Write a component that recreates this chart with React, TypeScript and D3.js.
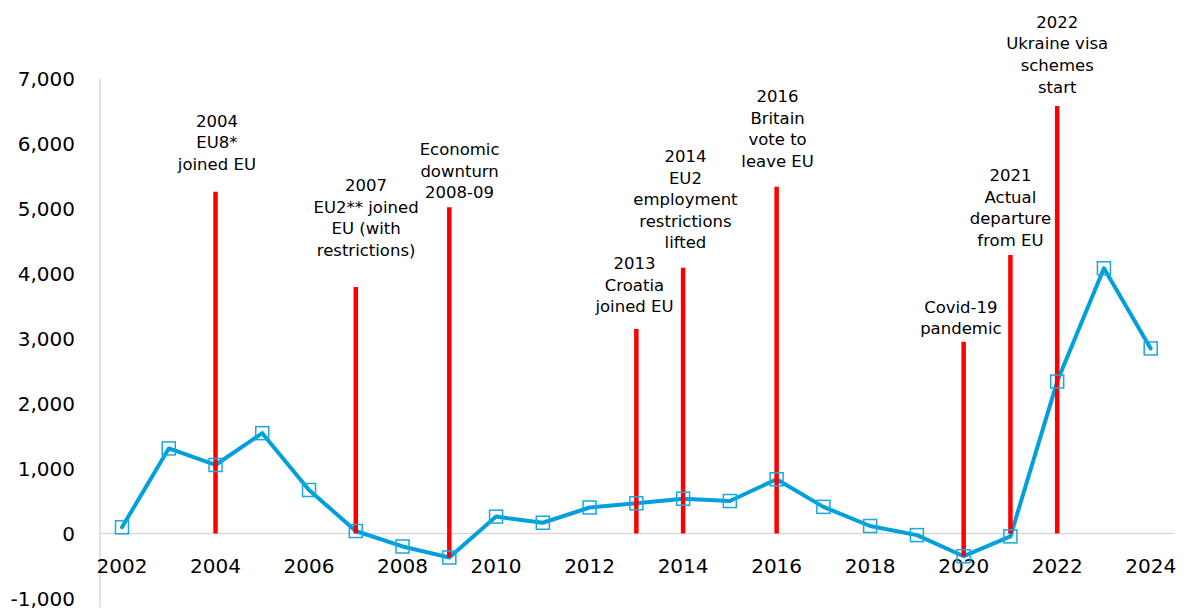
import React from "react";
import * as d3 from "d3";

const years = [2002, 2003, 2004, 2005, 2006, 2007, 2008, 2009, 2010, 2011, 2012, 2013, 2014, 2015, 2016, 2017, 2018, 2019, 2020, 2021, 2022, 2023, 2024];
const values = [95, 1310, 1055, 1545, 670, 38, -200, -370, 260, 165, 400, 465, 535, 500, 835, 410, 115, -25, -350, -45, 2340, 4085, 2850];

const yTicks = [-1000, 0, 1000, 2000, 3000, 4000, 5000, 6000, 7000];
const xTicks = [2002, 2004, 2006, 2008, 2010, 2012, 2014, 2016, 2018, 2020, 2022, 2024];

const eventYears = [2004, 2007, 2009, 2013, 2014, 2016, 2020, 2021, 2022];
const eventTop = [5264, 3796, 5024, 3150, 4094, 5341, 2954, 4289, 6584];
const eventBottom = [0, 0, -370, 0, 0, 0, -350, 0, 0];
const eventLabelValue = [6358, 5367, 5922, 4166, 5814, 6738, 3493, 5521, 7882];
const eventLabelShift = [0.03, 0.22, 0.22, -0.04, 0.05, 0.02, -0.06, 0, 0];
const eventLabels = [
  ["2004", "EU8*", "joined EU"],
  ["2007", "EU2** joined", "EU (with", "restrictions)"],
  ["Economic", "downturn", "2008-09"],
  ["2013", "Croatia", "joined EU"],
  ["2014", "EU2", "employment", "restrictions", "lifted"],
  ["2016", "Britain", "vote to", "leave EU"],
  ["Covid-19", "pandemic"],
  ["2021", "Actual", "departure", "from EU"],
  ["2022", "Ukraine visa", "schemes", "start"],
];

const W = 1184;
const H = 610;
const FONT = "'DejaVu Sans', Verdana, sans-serif";

const fmt = (v: number) => d3.format(",")(v).replace("\u2212", "-");

export default function App() {
  const x = d3.scaleLinear().domain([2002, 2024]).range([122, 1150.7]);
  const y = d3.scaleLinear().domain([-1000, 7000]).range([598.4, 79]);
  const axisX = 100;
  const rightEnd = 1174;

  const line = d3
    .line<number>()
    .x((_, i) => x(years[i]))
    .y((d) => y(d));

  const ms = 13;
  const lineH = 21.6;

  return (
    <svg
      width={W}
      height={H}
      style={{ position: "absolute", left: 0, top: 0, background: "#fff" }}
      fontFamily={FONT}
    >
      {/* axes */}
      <line x1={axisX} x2={axisX} y1={y(7000)} y2={y(-1000) + 9} stroke="#d9d9d9" strokeWidth={1.5} />
      <line x1={axisX} x2={rightEnd} y1={y(0)} y2={y(0)} stroke="#d9d9d9" strokeWidth={1.5} />

      {yTicks.map((t) => (
        <text key={t} x={75} y={y(t) + 7.3} textAnchor="end" fontSize={20} fill="#000">
          {fmt(t)}
        </text>
      ))}
      {xTicks.map((t) => (
        <text key={t} x={x(t)} y={573} textAnchor="middle" fontSize={20} fill="#000">
          {t}
        </text>
      ))}

      {/* data line */}
      <path d={line(values) || ""} fill="none" stroke="#00A0DC" strokeWidth={4} strokeLinejoin="round" strokeLinecap="round" />

      {/* event lines */}
      {eventYears.map((yr, i) => (
        <line
          key={yr}
          x1={x(yr)}
          x2={x(yr)}
          y1={y(eventBottom[i])}
          y2={y(eventTop[i])}
          stroke="#FF0000"
          strokeWidth={4.5}
        />
      ))}

      {/* markers */}
      {values.map((v, i) => (
        <rect
          key={years[i]}
          x={x(years[i]) - ms / 2}
          y={y(v) - ms / 2}
          width={ms}
          height={ms}
          fill="none"
          stroke="#1AA7E0"
          strokeWidth={1.5}
        />
      ))}

      {/* event labels */}
      {eventYears.map((yr, i) => (
        <text
          key={"l" + yr}
          x={x(yr + eventLabelShift[i])}
          y={y(eventLabelValue[i]) + 6}
          textAnchor="middle"
          fontSize={16.5}
          fill="#000"
        >
          {eventLabels[i].map((s, j) => (
            <tspan key={j} x={x(yr + eventLabelShift[i])} dy={j === 0 ? 0 : lineH}>
              {s}
            </tspan>
          ))}
        </text>
      ))}
    </svg>
  );
}
